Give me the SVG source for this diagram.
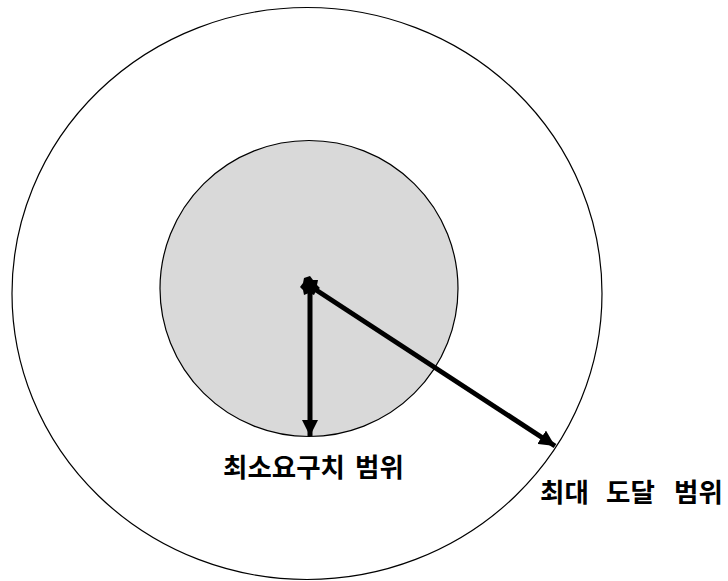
<svg xmlns="http://www.w3.org/2000/svg" width="728" height="581" viewBox="0 0 728 581">
<style>
.lbl{font-family:"Noto Sans CJK KR","Noto Sans",sans-serif;font-weight:bold;font-size:26.5px;fill:#000}
.arr{stroke:#000;stroke-width:5;fill:none}
</style>
<defs>
<marker id="ah" markerUnits="userSpaceOnUse" markerWidth="18" markerHeight="16" refX="16" refY="8" orient="auto">
<path d="M0,0 L16,8 L0,16 Z" fill="#000"/>
</marker>
</defs>
<rect width="728" height="581" fill="#fff"/>
<g id="outer">
<ellipse cx="307" cy="293.5" rx="295" ry="286" fill="#fff" stroke="#000" stroke-width="1.2"/>
</g>
<g id="inner">
<ellipse cx="309" cy="288.5" rx="149" ry="148" fill="#d9d9d9" stroke="#000" stroke-width="1.2"/>
</g>
<g id="connectors">
<line class="arr" x1="310" y1="286" x2="310" y2="436" marker-end="url(#ah)"/>
<line class="arr" x1="310" y1="286" x2="555" y2="446" marker-end="url(#ah)"/>
<polygon points="310,276 313,280 318,280 317,285 320,288 316,291 314,295 309,293 304,295 303,290 300,287 303,283 304,278" fill="#000"/>
</g>
<g id="label-min">
<text class="lbl" y="477"><tspan x="223">최소요구치</tspan><tspan x="355">범위</tspan></text>
</g>
<g id="label-max">
<text class="lbl" y="502"><tspan x="540">최대</tspan><tspan x="606">도달</tspan><tspan x="674">범위</tspan></text>
</g>
</svg>
